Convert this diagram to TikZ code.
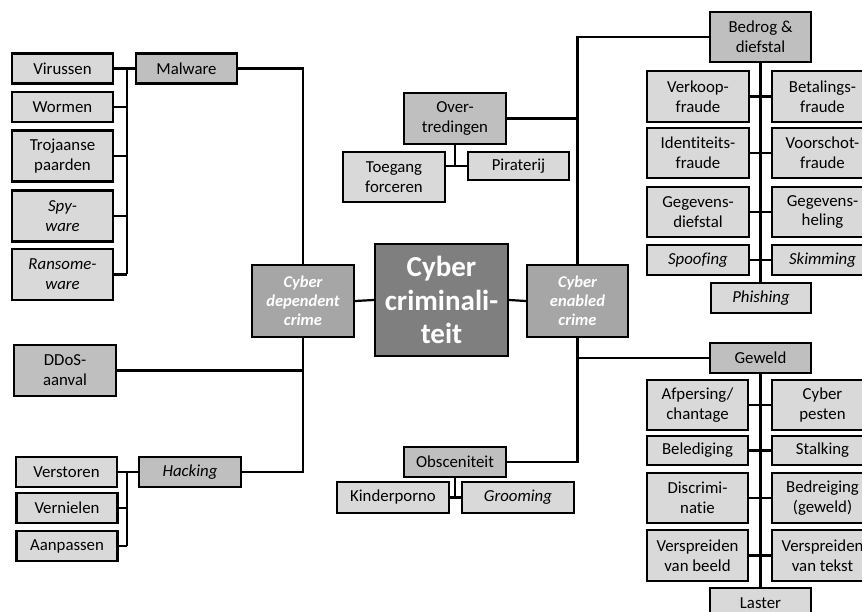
\documentclass[tikz,border=0pt]{standalone}
\usepackage{fontspec}
\setmainfont{Carlito}[Ligatures=CommonOff]
\usepackage{xcolor}
\usepackage{tikz}
\usetikzlibrary{positioning,calc}

\definecolor{leafgray}{HTML}{D9D9D9}
\definecolor{groupgray}{HTML}{BFBFBF}
\definecolor{crimegray}{HTML}{A6A6A6}
\definecolor{rootgray}{HTML}{7F7F7F}

\begin{document}
\begin{tikzpicture}[
    x=1pt, y=-1pt,
    leafbox/.style={draw=black, line width=2.2pt, fill=leafgray, align=center, inner sep=0pt,
        minimum width=101pt, minimum height=30pt, font=\fontsize{16.8}{19.8}\selectfont},
    tallbox/.style={minimum height=51pt},
    groupbox/.style={leafbox, fill=groupgray},
    crimebox/.style={leafbox, fill=crimegray, text=white, minimum height=72pt,
        font=\fontsize{16.5}{19}\selectfont\bfseries\itshape},
    rootbox/.style={leafbox, fill=rootgray, text=white, minimum width=133pt, minimum height=112pt,
        font=\fontsize{29}{33.5}\selectfont\bfseries},
    link/.style={line width=2.2pt}
]
\useasboundingbox (0,0) rectangle (862,612);
\clip (0,0) rectangle (862,612);

% Center
\node[rootbox] (root) at (441.5,300) {Cyber\\criminali-\\teit};
\node[crimebox, minimum width=102pt] (dep) at (303,301) {Cyber\\dependent\\crime};
\node[crimebox] (enab) at (577.5,301) {Cyber\\enabled\\crime};
\draw[link] (dep.east) -- (root.west);
\draw[link] (root.east) -- (enab.west);

% Malware
\node[groupbox] (malware) at (186.5,68.5) {Malware};
\node[leafbox] (virus) at (62.5,68.5) {Virussen};
\node[leafbox] (wormen) at (62.5,107) {Wormen};
\node[leafbox, tallbox] (trojan) at (62.5,156) {Trojaanse\\paarden};
\node[leafbox, tallbox] (spy) at (62.5,216) {\itshape Spy-\\\itshape ware};
\node[leafbox, tallbox] (ransom) at (62.5,274.5) {\itshape Ransome-\\\itshape ware};
\coordinate (mtop) at (127,68.5);
\coordinate (mbot) at (127,274.5);
\draw[link] (malware.west) -- (virus.east);
\draw[link] (mtop) -- (mbot);
\foreach \n in {wormen,trojan,spy,ransom}
    \draw[link] (\n.east) -- (\n.east -| mtop);
\draw[link] (malware.east) -| (dep.north);

% DDoS
\node[groupbox, tallbox, minimum width=102pt] (ddos) at (65,370.5) {DDoS-\\aanval};
\draw[link] (ddos.east) -| (dep.south);

% Hacking
\node[groupbox, minimum width=102pt] (hacking) at (190,472) {\itshape Hacking};
\node[leafbox] (verstoren) at (66.5,472) {Verstoren};
\node[leafbox] (vernielen) at (67,508) {Vernielen};
\node[leafbox] (aanpassen) at (67,546) {Aanpassen};
\coordinate (htop) at (127,472);
\coordinate (hbot) at (127,546);
\draw[link] (hacking.west) -- (verstoren.east);
\draw[link] (htop) -- (hbot);
\foreach \n in {vernielen,aanpassen}
    \draw[link] (\n.east) -- (\n.east -| htop);
\draw[link] (hacking.east) -| (dep.south);

% Overtredingen
\node[groupbox, tallbox, minimum width=102pt] (overtr) at (455,118.5) {Over-\\tredingen};
\node[leafbox, minimum width=102pt, minimum height=50pt] (toegang) at (394,177) {Toegang\\forceren};
\node[leafbox, minimum height=28pt] (piraterij) at (518.5,166) {Piraterij};
\draw[link] (overtr.south) -- (overtr.south |- piraterij.west);
\draw[link] (piraterij.west) -- (piraterij.west -| toegang.east);
\draw[link] (overtr.east) -| (enab.north);

% Obsceniteit
\node[groupbox, minimum width=102pt] (obsc) at (455,462) {Obsceniteit};
\node[leafbox, minimum width=112pt, minimum height=31pt] (kinder) at (393,497.5) {Kinderporno};
\node[leafbox, minimum width=112pt, minimum height=31pt] (grooming) at (518,497.5) {\itshape Grooming};
\draw[link] (obsc.south) -- (obsc.south |- kinder.east);
\draw[link] (kinder.east) -- (grooming.west);
\draw[link] (obsc.east) -| (enab.south);

% Bedrog & diefstal
\node[groupbox, minimum height=50pt] (bedrog) at (760.5,37) {Bedrog \&\\diefstal};
\node[leafbox, tallbox, minimum width=102pt] (verkoop) at (698,96.5) {Verkoop-\\fraude};
\node[leafbox, tallbox] (betaling) at (822.5,96.5) {Betalings-\\fraude};
\node[leafbox, minimum width=102pt, minimum height=50pt] (identiteit) at (698,153) {Identiteits-\\fraude};
\node[leafbox, minimum height=50pt] (voorschot) at (822.5,153) {Voorschot-\\fraude};
\node[leafbox, minimum width=102pt, minimum height=50pt] (gegdief) at (698,212) {Gegevens-\\diefstal};
\node[leafbox, minimum height=50pt] (gegheling) at (822.5,212) {Gegevens-\\heling};
\node[leafbox, minimum width=102pt] (spoofing) at (698,260) {\itshape Spoofing};
\node[leafbox] (skimming) at (822.5,260) {\itshape Skimming};
\node[leafbox, minimum width=100pt] (phishing) at (761,298) {\itshape Phishing};
\draw[link] (enab.north) |- (bedrog.west);
\draw[link] (bedrog.south) -- (bedrog.south |- phishing.north);
\draw[link] (verkoop.east) -- (betaling.west);
\draw[link] (identiteit.east) -- (voorschot.west);
\draw[link] (gegdief.east) -- (gegheling.west);
\draw[link] (spoofing.east) -- (skimming.west);

% Geweld
\node[groupbox] (geweld) at (760.5,358) {Geweld};
\node[leafbox, minimum height=50pt] (afpersing) at (697.5,405) {Afpersing/\\chantage};
\node[leafbox, minimum height=50pt] (pesten) at (822.5,405) {Cyber\\pesten};
\node[leafbox, minimum height=29pt] (belediging) at (697.5,450.5) {Belediging};
\node[leafbox, minimum height=29pt] (stalking) at (822.5,450.5) {Stalking};
\node[leafbox, minimum height=50pt] (discrim) at (697.5,498) {Discrimi-\\natie};
\node[leafbox, minimum height=50pt] (bedreiging) at (822.5,498) {Bedreiging\\(geweld)};
\node[leafbox, tallbox] (versprbeeld) at (697.5,555.5) {Verspreiden\\van beeld};
\node[leafbox, tallbox] (versprtekst) at (822.5,555.5) {Verspreiden\\van tekst};
\node[leafbox] (laster) at (760.5,603) {Laster};
\draw[link] (enab.south) |- (geweld.west);
\draw[link] (geweld.south) -- (geweld.south |- laster.north);
\draw[link] (afpersing.east) -- (pesten.west);
\draw[link] (belediging.east) -- (stalking.west);
\draw[link] (discrim.east) -- (bedreiging.west);
\draw[link] (versprbeeld.east) -- (versprtekst.west);

\end{tikzpicture}
\end{document}
